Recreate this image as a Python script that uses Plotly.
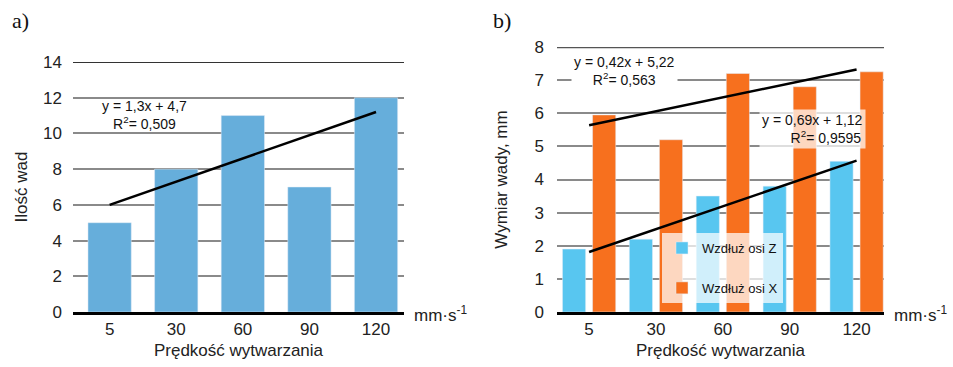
import plotly.graph_objects as go
from plotly.subplots import make_subplots

# ---- data ----
speeds = ["5", "30", "60", "90", "120"]
defect_count = [5, 8, 11, 7, 12]
size_z = [1.9, 2.2, 3.5, 3.8, 4.55]
size_x = [5.95, 5.2, 7.2, 6.8, 7.25]
# trend lines (end points, as given by the fitted equations in the figure)
trend_x_idx = ["5", "120"]
trend_count = [6.0, 11.2]
trend_z = [1.81, 4.57]
trend_xdir = [5.64, 7.32]

W, H = 953, 367
FONT = "Liberation Sans, Arial, sans-serif"
SERIF = "Liberation Serif, Times New Roman, serif"
BLUE_A = "#66AEDB"
BLUE_B = "#58C6F0"
ORANGE = "#F7701E"
GRID = "#8a8a8a"

fig = make_subplots(rows=1, cols=2)

fig.add_trace(go.Bar(x=speeds, y=defect_count, marker_color=BLUE_A, showlegend=False,
                     width=0.65), row=1, col=1)
fig.add_trace(go.Scatter(x=trend_x_idx, y=trend_count, mode="lines",
                         line=dict(color="black", width=2.5), showlegend=False), row=1, col=1)

fig.add_trace(go.Bar(x=speeds, y=size_z, marker_color=BLUE_B, name="Wzdłuż osi Z",
                     legendgroup="z"), row=1, col=2)
fig.add_trace(go.Bar(x=speeds, y=size_x, marker_color=ORANGE, name="Wzdłuż osi X",
                     legendgroup="x"), row=1, col=2)
fig.add_trace(go.Scatter(x=trend_x_idx, y=trend_xdir, mode="lines",
                         line=dict(color="black", width=2.5), showlegend=False), row=1, col=2)
fig.add_trace(go.Scatter(x=trend_x_idx, y=trend_z, mode="lines",
                         line=dict(color="black", width=2.5), showlegend=False), row=1, col=2)

ydom = [(H - 312) / H, (H - 62) / H]
ydom_b = [(H - 312) / H, (H - 47) / H]

common_x = dict(type="category", showgrid=False, showline=True, linecolor="black",
                linewidth=3, ticks="", tickfont=dict(family=FONT, size=17, color="#222"),
                ticklabelstandoff=0, title_font=dict(family=FONT, size=17, color="#222"),
                title_standoff=6, fixedrange=True, automargin=False)
common_y = dict(showgrid=True, gridcolor=GRID, gridwidth=1.5, zeroline=False,
                showline=False, ticks="", tickfont=dict(family=FONT, size=17, color="#222"),
                title_font=dict(family=FONT, size=17, color="#222"), fixedrange=True,
                automargin=False)

fig.update_xaxes(common_x, domain=[73 / W, 404 / W], range=[-0.55, 4.42],
                 title_text="Prędkość wytwarzania", row=1, col=1)
fig.update_yaxes(common_y, domain=ydom, range=[0, 14], dtick=2, ticklabelstandoff=10,
                 title_text="Ilość wad", title_standoff=11, row=1, col=1)
fig.update_xaxes(common_x, domain=[557 / W, 884 / W], range=[-0.48, 4.41],
                 title_text="Prędkość wytwarzania", row=1, col=2)
fig.update_yaxes(common_y, domain=ydom_b, range=[0, 8], dtick=1, ticklabelstandoff=12,
                 title_text="Wymiar wady, mm", title_standoff=22, row=1, col=2)

shapes = [
    dict(type="line", xref="x domain", yref="y", x0=0, x1=1, y0=14, y1=14,
         line=dict(color="#333", width=2)),
    dict(type="line", xref="x2 domain", yref="y2", x0=0, x1=1, y0=8, y1=8,
         line=dict(color="#555", width=2.5)),
]

annotations = [
    dict(text="a)", xref="paper", yref="paper", x=10 / W, y=1 - 20 / H, xanchor="left",
         yanchor="middle", showarrow=False, font=dict(family=SERIF, size=22, color="#111")),
    dict(text="b)", xref="paper", yref="paper", x=491 / W, y=1 - 20 / H, xanchor="left",
         yanchor="middle", showarrow=False, font=dict(family=SERIF, size=22, color="#111")),
    dict(text="mm·s<sup>-1</sup>", xref="paper", yref="paper", x=412 / W, y=1 - 314 / H,
         xanchor="left", yanchor="middle", showarrow=False, font=dict(family=FONT, size=17, color="#222")),
    dict(text="mm·s<sup>-1</sup>", xref="paper", yref="paper", x=892 / W, y=1 - 314 / H,
         xanchor="left", yanchor="middle", showarrow=False, font=dict(family=FONT, size=17, color="#222")),
    dict(text="y = 1,3x + 4,7<br>R<sup>2</sup>= 0,509", xref="paper", yref="paper",
         x=144 / W, y=1 - 115 / H, xanchor="center", yanchor="middle", showarrow=False,
         align="center", font=dict(family=FONT, size=14, color="#111")),
    dict(text="y = 0,42x + 5,22<br>R<sup>2</sup>= 0,563", xref="paper", yref="paper",
         x=624 / W, y=1 - 71 / H, xanchor="center", yanchor="middle", showarrow=False,
         align="center", bgcolor="white", borderpad=2,
         font=dict(family=FONT, size=14, color="#111")),
    dict(text="y = 0,69x + 1,12<br>       R<sup>2</sup>= 0,9595", xref="paper", yref="paper",
         x=812 / W, y=1 - 129 / H, xanchor="center", yanchor="middle", showarrow=False,
         align="center", bgcolor="rgba(255,255,255,0.72)", borderpad=2,
         font=dict(family=FONT, size=14, color="#111")),
]

fig.update_layout(
    width=W, height=H, margin=dict(l=0, r=0, t=0, b=0),
    paper_bgcolor="white", plot_bgcolor="white",
    barmode="group", bargap=0.1, bargroupgap=0.23,
    shapes=shapes, annotations=annotations,
    legend=dict(x=662 / W, y=1 - 233 / H, xanchor="left", yanchor="top",
                bgcolor="rgba(255,255,255,0.72)", tracegroupgap=20, itemwidth=30,
                font=dict(family=FONT, size=13, color="#111"), traceorder="grouped"),
    font=dict(family=FONT),
)

fig.write_html("out.html", config={"displayModeBar": False},
               post_script="document.body.style.margin='0';document.body.style.overflow='hidden';")
